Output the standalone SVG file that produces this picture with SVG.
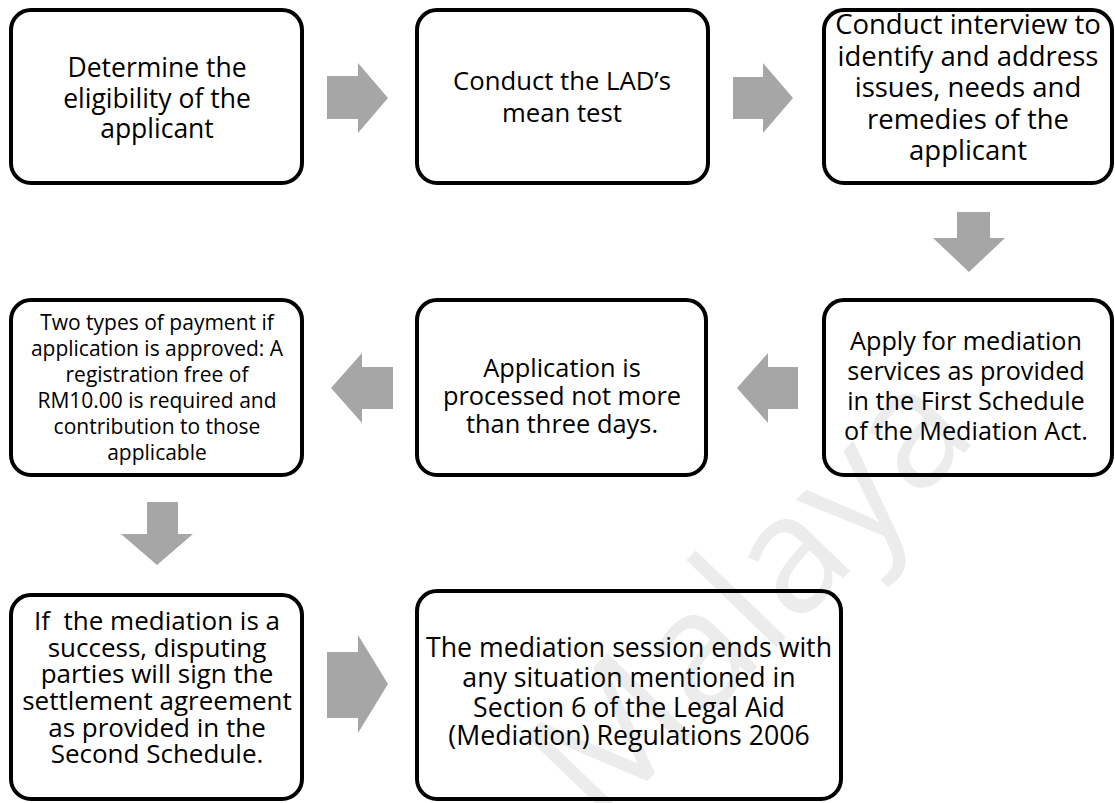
<svg xmlns="http://www.w3.org/2000/svg" width="1115" height="803" viewBox="0 0 1115 803">
<style>
.box{fill:none;stroke:#000;stroke-width:4}
.t{font-family:"Open Sans","Liberation Sans",sans-serif;fill:#000;text-anchor:middle}
.arr{fill:#a6a6a6}
.wm{font-family:"Open Sans","Liberation Sans",sans-serif;font-size:165px;fill:#ececec}
</style>
<rect width="1115" height="803" fill="#fff"/>
<text class="wm" transform="translate(600,830) rotate(-46)">Malaya</text>
<g id="connectors">
<polygon class="arr" points="327,76 358,76 358,63 388,98 358,133 358,119 327,119"/>
<polygon class="arr" points="733,77 763,77 763,63 793,98 763,133 763,119 733,119"/>
<polygon class="arr" points="957,212 990,212 990,238 1005,238 969,272 933,238 957,238"/>
<polygon class="arr" points="798,367 768,367 768,353 737,388 768,423 768,409 798,409"/>
<polygon class="arr" points="393,367 362,367 362,353 331,388 362,423 362,409 393,409"/>
<polygon class="arr" points="147,502 178,502 178,534 193,534 157,565 121,534 147,534"/>
<polygon class="arr" points="327,652 358,652 358,635 388,684 358,733 358,718 327,718"/>
</g>
<g id="n1">
<rect class="box" x="11" y="10" width="291" height="173" rx="20"/>
<text class="t" font-size="26.5"><tspan x="157" y="77">Determine the</tspan><tspan x="157" y="108">eligibility of the</tspan><tspan x="157" y="138">applicant</tspan></text>
</g>
<g id="n2">
<rect class="box" x="417" y="10" width="291" height="173" rx="20"/>
<text class="t" font-size="25.7"><tspan x="562" y="90">Conduct the LAD’s</tspan><tspan x="562" y="122">mean test</tspan></text>
</g>
<g id="n3">
<rect class="box" x="824" y="10" width="288" height="173" rx="20"/>
<text class="t" font-size="27.5"><tspan x="968" y="34">Conduct interview to</tspan><tspan x="968" y="66">identify and address</tspan><tspan x="968" y="97">issues, needs and</tspan><tspan x="968" y="129">remedies of the</tspan><tspan x="968" y="160">applicant</tspan></text>
</g>
<g id="n4">
<rect class="box" x="824" y="300" width="288" height="175" rx="20"/>
<text class="t" font-size="25.2"><tspan x="966" y="350">Apply for mediation</tspan><tspan x="966" y="380">services as provided</tspan><tspan x="966" y="410">in the First Schedule</tspan><tspan x="966" y="440">of the Mediation Act.</tspan></text>
</g>
<g id="n5">
<rect class="box" x="417" y="300" width="289" height="175" rx="20"/>
<text class="t" font-size="25.4"><tspan x="562" y="377">Application is</tspan><tspan x="562" y="405">processed not more</tspan><tspan x="562" y="433">than three days.</tspan></text>
</g>
<g id="n6">
<rect class="box" x="11" y="300" width="291" height="175" rx="20"/>
<text class="t" font-size="21"><tspan x="157" y="330">Two types of payment if</tspan><tspan x="157" y="356">application is approved: A</tspan><tspan x="157" y="382">registration free of</tspan><tspan x="157" y="408">RM10.00 is required and</tspan><tspan x="157" y="434">contribution to those</tspan><tspan x="157" y="460">applicable</tspan></text>
</g>
<g id="n7">
<rect class="box" x="11" y="595" width="291" height="204" rx="20"/>
<text class="t" font-size="26"><tspan x="157" y="630">If&#160; the mediation is a</tspan><tspan x="157" y="657">success, disputing</tspan><tspan x="157" y="683">parties will sign the</tspan><tspan x="157" y="710">settlement agreement</tspan><tspan x="157" y="737">as provided in the</tspan><tspan x="157" y="763">Second Schedule.</tspan></text>
</g>
<g id="n8">
<rect class="box" x="417" y="591" width="424" height="208" rx="20"/>
<text class="t" font-size="26.7"><tspan x="629" y="657">The mediation session ends with</tspan><tspan x="629" y="687">any situation mentioned in</tspan><tspan x="629" y="717">Section 6 of the Legal Aid</tspan><tspan x="629" y="745">(Mediation) Regulations 2006</tspan></text>
</g>
</svg>
